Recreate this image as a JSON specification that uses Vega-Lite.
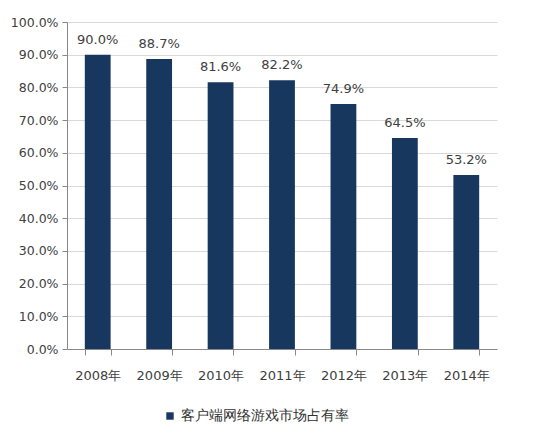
{
  "$schema": "https://vega.github.io/schema/vega-lite/v6.json",
  "autosize": {"type": "none"},
  "width": 430,
  "height": 327,
  "padding": {"left": 67, "top": 22, "right": 53, "bottom": 91},
  "background": "white",
  "config": {
    "view": {"stroke": null},
    "font": "DejaVu Sans",
    "axis": {"labelFont": "DejaVu Sans", "labelColor": "#404040", "labelFontSize": 12}
  },
  "data": {
    "values": [
      {"year": "2008年", "share": 0.900, "series": "客户端网络游戏市场占有率"},
      {"year": "2009年", "share": 0.887, "series": "客户端网络游戏市场占有率"},
      {"year": "2010年", "share": 0.816, "series": "客户端网络游戏市场占有率"},
      {"year": "2011年", "share": 0.822, "series": "客户端网络游戏市场占有率"},
      {"year": "2012年", "share": 0.749, "series": "客户端网络游戏市场占有率"},
      {"year": "2013年", "share": 0.645, "series": "客户端网络游戏市场占有率"},
      {"year": "2014年", "share": 0.532, "series": "客户端网络游戏市场占有率"}
    ]
  },
  "encoding": {
    "x": {
      "field": "year",
      "type": "nominal",
      "sort": null,
      "title": null,
      "scale": {"paddingInner": 0.58, "paddingOuter": 0.29},
      "axis": {
        "labelAngle": 0,
        "tickBand": "extent",
        "tickSize": 6,
        "tickColor": "#888888",
        "domainColor": "#888888",
        "labelPadding": 14,
        "labelFontSize": 13
      }
    },
    "y": {
      "field": "share",
      "type": "quantitative",
      "title": null,
      "scale": {"domain": [0, 1]},
      "axis": {
        "format": ".1%",
        "values": [0, 0.1, 0.2, 0.3, 0.4, 0.5, 0.6, 0.7, 0.8, 0.9, 1.0],
        "gridColor": "#d9d9d9",
        "tickSize": 5,
        "tickColor": "#888888",
        "domainColor": "#888888",
        "labelPadding": 4,
        "labelFontSize": 12.5
      }
    }
  },
  "layer": [
    {
      "mark": {"type": "bar", "color": "#17375E"},
      "encoding": {
        "color": {
          "field": "series",
          "type": "nominal",
          "scale": {"range": ["#17375E"]},
          "legend": {
            "title": null,
            "orient": "none",
            "legendX": 96,
            "legendY": 387,
            "direction": "horizontal",
            "symbolType": "square",
            "symbolSize": 55,
            "labelFontSize": 14,
            "labelLimit": 300,
            "labelFont": "DejaVu Sans",
            "labelColor": "#303030"
          }
        }
      }
    },
    {
      "mark": {"type": "text", "dy": -8, "fontSize": 13, "color": "#404040", "baseline": "bottom"},
      "encoding": {
        "text": {"field": "share", "type": "quantitative", "format": ".1%"}
      }
    }
  ]
}
